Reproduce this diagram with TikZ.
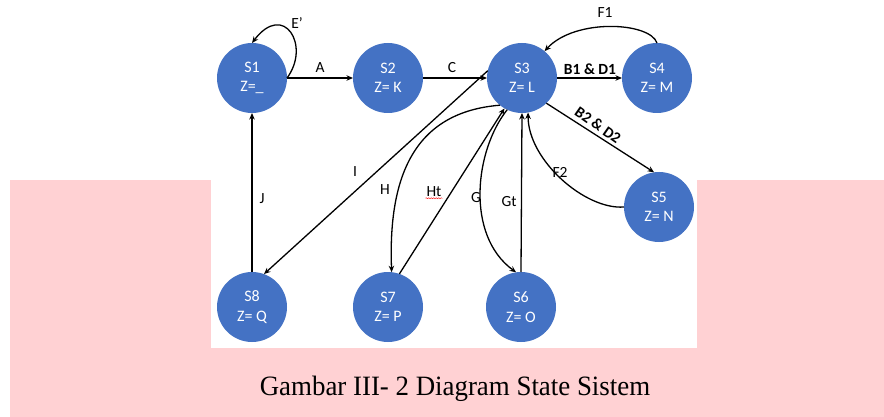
\documentclass[tikz,border=0pt]{standalone}
\usepackage{fontspec}
\setmainfont{Carlito}
\newfontfamily\captionfont{Liberation Serif}
\usetikzlibrary{arrows.meta,decorations.pathmorphing}
\definecolor{stateblue}{HTML}{4472C4}
\definecolor{pagepink}{RGB}{255,209,211}

\begin{document}
\begin{tikzpicture}[x=1pt,y=-1pt]
\useasboundingbox (0,0) rectangle (884,417);
\fill[pagepink] (10,180) rectangle (884,417);
\fill[white] (211,0) rectangle (697,348);

\coordinate (P1) at (252, 78);
\coordinate (P2) at (388, 78);
\coordinate (P3) at (522, 78);
\coordinate (P4) at (657, 78);
\coordinate (P5) at (659, 207);
\coordinate (P6) at (521, 307);
\coordinate (P7) at (388, 307);
\coordinate (P8) at (252, 307);


\tikzset{StateStyle/.style = {
 shape = circle,
 fill = stateblue,
 text = white,
 align = center,
 font = \fontsize{16}{19.5}\selectfont,
 inner sep = 0pt,
 outer sep = 0pt,
 minimum size = 70pt} }

\node[StateStyle] (S1) at (P1) {S1\\Z=\_};
\node[StateStyle] (S2) at (P2) {S2\\Z= K};
\node[StateStyle] (S3) at (P3) {S3\\Z= L};
\node[StateStyle] (S4) at (P4) {S4\\Z= M};
\node[StateStyle] (S5) at (P5) {S5\\Z= N};
\node[StateStyle] (S6) at (P6) {S6\\Z= O};
\node[StateStyle] (S7) at (P7) {S7\\Z= P};
\node[StateStyle] (S8) at (P8) {S8\\Z= Q};


\tikzset{EdgeStyle/.style = {line width=1.3pt, -{Stealth[length=6.5pt,width=5.5pt]}} }

\draw[EdgeStyle] (S1.east) .. controls +(24,-32) and +(32,-42) .. (S1.north);
\draw[EdgeStyle] (S1) -- (S2);
\draw[EdgeStyle] (S2) -- (S3);
\draw[EdgeStyle] (S3) -- (S4);
\draw[EdgeStyle] (S4.north) .. controls (650,22) and (575,18) .. (S3.50);
\draw[EdgeStyle] (S3.-46) -- (S5.98);
\draw[EdgeStyle] (S5.west) .. controls (585,210) and (528,160) .. (S3.-80);
\draw[EdgeStyle] (S3.168) -- (S8.70);
\draw[EdgeStyle] (S8) -- (S1);
\draw[EdgeStyle] (S3.231) .. controls (415,112) and (388,175) .. (S7.84);
\draw[EdgeStyle] (S7.71) -- (S3.-120);
\draw[EdgeStyle] (S3.-115) .. controls (475,150) and (465,235) .. (S6.98);
\draw[EdgeStyle] (S6.north) -- (S3.south);


\tikzset{LabelStyle/.style = {
 inner sep = 1pt,
 font = \fontsize{15.5}{17}\selectfont} }

\node[LabelStyle] (LE) at (297, 23) {E’};
\node[LabelStyle] (LA) at (320, 68) {A};
\node[LabelStyle] (LC) at (452, 68) {C};
\node[LabelStyle, font=\fontsize{15.5}{17}\selectfont\bfseries] (LB1) at (590, 69) {B1 \& D1};
\node[LabelStyle] (LF1) at (605, 13) {F1};
\node[LabelStyle, font=\fontsize{15.5}{17}\selectfont\bfseries, rotate=-35] (LB2) at (598, 125) {B2 \& D2};
\node[LabelStyle] (LF2) at (560, 172) {F2};
\node[LabelStyle] (LI) at (355, 172) {I};
\node[LabelStyle] (LJ) at (262, 199) {J};
\node[LabelStyle] (LH) at (385, 190) {H};
\node[LabelStyle] (LHt) at (434, 192) {Ht};
\node[LabelStyle] (LG) at (476, 198) {G};
\node[LabelStyle] (LGt) at (509, 202) {Gt};
\draw[red, line width=0.4pt, decorate, decoration={snake, amplitude=0.5pt, segment length=2.5pt}]
 (LHt.south west) -- (LHt.south east);

\node[font=\captionfont\fontsize{28}{30}\selectfont, xscale=0.96] (CAP) at (455, 389) {Gambar III- 2 Diagram State Sistem};

\end{tikzpicture}
\end{document}
